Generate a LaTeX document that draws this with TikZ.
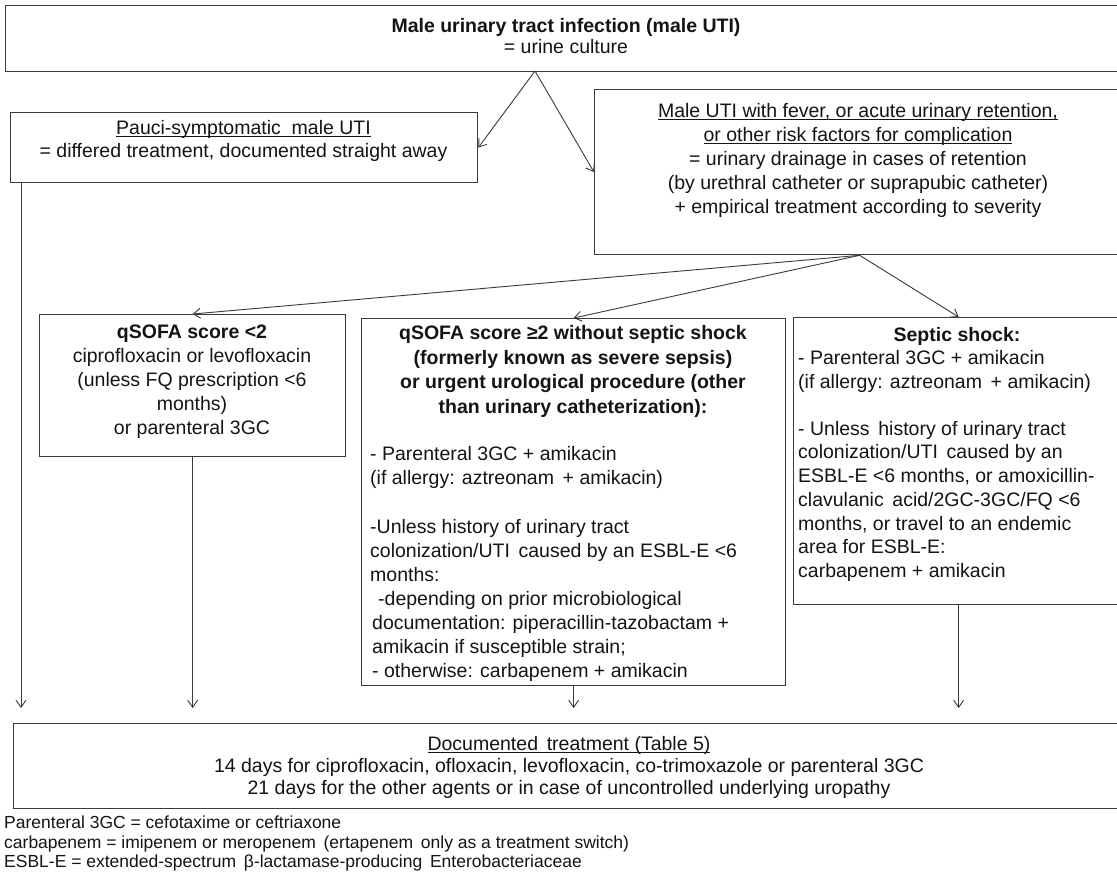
\documentclass[tikz,border=0pt]{standalone}
\usepackage{fontspec}
\setmainfont{Liberation Sans}
\usetikzlibrary{arrows.meta}
\definecolor{linec}{HTML}{3A3A3A}
\definecolor{inkc}{HTML}{141414}
% underline drawn close to the baseline, crossing the descenders
\newcommand\lowrule[1]{\setbox0\hbox{#1}\rlap{\rule[-2.4pt]{\wd0}{0.9pt}}\box0}
\begin{document}
\begin{tikzpicture}[x=1pt,y=-1pt,
  box/.style={draw=linec,line width=1.3pt,rectangle,inner sep=0pt,anchor=north west},
  conn/.style={draw=linec,line width=0.9pt,-{Straight Barb[length=7pt,width=10pt]}},
  txt/.style={inner sep=0pt,text=inkc,font=\fontsize{19.5}{23.5}\selectfont},
  drop/.style={conn,shorten >=15pt},
]
\useasboundingbox (0,0) rectangle (1117,879);
\fill[white] (0,0) rectangle (1117,879);
\begin{scope}
\clip (0,0) rectangle (1117,879);

% frames
\node[box,minimum width=1120pt,minimum height=66pt] (top) at (5,5) {};
\node[box,minimum width=467pt,minimum height=70pt] (pauci) at (10,112) {};
\node[box,minimum width=530pt,minimum height=165pt] (fever) at (594,89) {};
\node[box,minimum width=306pt,minimum height=142pt] (qlow) at (39,314) {};
\node[box,minimum width=424pt,minimum height=367pt] (qhigh) at (361,318) {};
\node[box,minimum width=330pt,minimum height=287pt] (shock) at (793,317) {};
\node[box,minimum width=1112pt,minimum height=85pt] (doc) at (13,723) {};

% texts
\node[txt,align=center,font=\fontsize{19.5}{21}\selectfont] (toptxt) at (566,36)
  {\textbf{Male urinary tract infection (male UTI)}\\= urine culture};
\node[txt,align=center,font=\fontsize{19.5}{22.5}\selectfont] (paucitxt) at (243.5,141)
  {\lowrule{Pauci-symptomatic\ \ male UTI}\\= differed treatment, documented straight away};
\node[txt,align=center,anchor=north,font=\fontsize{19.5}{24}\selectfont] (fevertxt) at (858,103)
  {\lowrule{Male UTI with fever, or acute urinary retention,}\\
   \lowrule{or other risk factors for complication}\\
   = urinary drainage in cases of retention\\
   (by urethral catheter or suprapubic catheter)\\
   + empirical treatment according to severity};
\node[txt,align=center,anchor=north,font=\fontsize{19.5}{24}\selectfont] (qlowtxt) at (192,325)
  {\textbf{qSOFA score <2}\\
   ciprofloxacin or levofloxacin\\
   (unless FQ prescription <6\\
   months)\\
   or parenteral 3GC};
\node[txt,align=center,anchor=north,font=\fontsize{19.5}{24.7}\selectfont] (qhighhead) at (573,325)
  {\textbf{qSOFA score ≥2 without septic shock}\\
   \textbf{(formerly known as severe sepsis)}\\
   \textbf{or urgent urological procedure (other}\\
   \textbf{than urinary catheterization):}};
\node[txt,align=left,anchor=north west,font=\fontsize{19.5}{24}\selectfont] (qhighbody) at (370,446)
  {- Parenteral 3GC + amikacin\\
   (if allergy: aztreonam\, + amikacin)\\[25pt]
   -Unless history of urinary tract\\
   colonization/UTI\, caused by an ESBL-E <6\\
   months:\\
   \hspace*{8pt}-depending on prior microbiological\\
   \hspace*{2pt}documentation: piperacillin-tazobactam +\\
   \hspace*{2pt}amikacin if susceptible strain;\\
   \hspace*{2pt}- otherwise: carbapenem + amikacin};
\node[txt,anchor=north,font=\fontsize{19.5}{23.5}\bfseries] (shockhead) at (957,327)
  {Septic shock:};
\node[txt,align=left,anchor=north west,font=\fontsize{19.5}{23.7}\selectfont] (shockbody) at (798,350)
  {- Parenteral 3GC + amikacin\\
   (if allergy: aztreonam\, + amikacin)\\[23.5pt]
   - Unless\, history of urinary tract\\
   colonization/UTI\, caused by an\\
   ESBL-E <6 months, or amoxicillin-\\
   clavulanic\, acid/2GC-3GC/FQ <6\\
   months, or travel to an endemic\\
   area for ESBL-E:\\
   carbapenem + amikacin};
\node[txt,align=center,font=\fontsize{19.5}{22}\selectfont] (doctxt) at (569,767)
  {\lowrule{Documented\, treatment (Table 5)}\\
   14 days for ciprofloxacin, ofloxacin, levofloxacin, co-trimoxazole or parenteral 3GC\\
   21 days for the other agents or in case of uncontrolled underlying uropathy};
\node[txt,align=left,anchor=north west,font=\fontsize{17.5}{19.3}\selectfont] (notes) at (4,816)
  {Parenteral 3GC = cefotaxime or ceftriaxone\\
   carbapenem = imipenem or meropenem\, (ertapenem\, only as a treatment switch)\\
   ESBL-E = extended-spectrum\, β-lactamase-producing\, Enterobacteriaceae};

% connectors
\coordinate (apex) at (535,71);
\draw[conn] (apex) -- (pauci.east);
\draw[conn] (apex) -- (fever.west);
\draw[conn] (fever.south) -- (qlow.north);
\draw[conn] (fever.south) -- (qhigh.north);
\draw[conn] (fever.south) -- (shock.north);
\draw[drop] ([xshift=11pt]pauci.south west) -- ([xshift=11pt]pauci.south west |- doc.north);
\draw[drop] (qlow.south) -- (qlow.south |- doc.north);
\draw[drop] (qhigh.south) -- (qhigh.south |- doc.north);
\draw[drop] (shock.south) -- (shock.south |- doc.north);
\end{scope}
\end{tikzpicture}
\end{document}
